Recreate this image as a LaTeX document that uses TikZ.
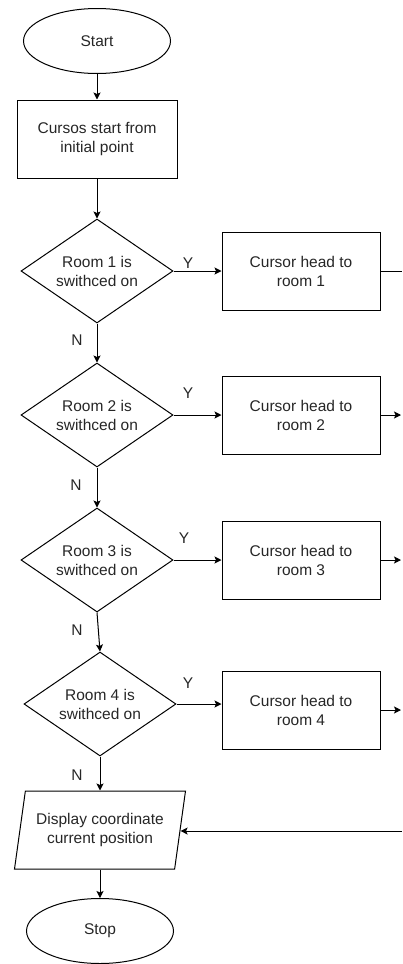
\documentclass[tikz,border=0pt]{standalone}
\usepackage{fontspec}
\setmainfont{Liberation Sans}
\usetikzlibrary{shapes.geometric,arrows.meta}

\begin{document}
\begin{tikzpicture}[x=1pt,y=-1pt,
  base/.style={draw=black, line width=1pt, font=\fontsize{15.5}{19}\selectfont,
    align=center, inner sep=0pt, text=black!85},
  term/.style={base, ellipse, minimum width=147pt, minimum height=65pt},
  proc/.style={base, rectangle, minimum width=158pt, minimum height=78pt},
  decide/.style={base, diamond, shape aspect=1.46, minimum width=152pt, minimum height=104pt},
  io/.style={base, trapezium, trapezium left angle=72, trapezium right angle=108,
    trapezium stretches body, minimum width=171pt, minimum height=78pt},
  flow/.style={line width=1pt, -{Stealth[length=7pt,width=7pt,inset=1.5pt]}},
  plain/.style={line width=1pt},
  lbl/.style={font=\fontsize{15.5}{19}\selectfont, text=black!85, inner sep=0pt}
]
\useasboundingbox (0,0) rectangle (402,964);

% main column
\node[term] (start) at (97,41) {Start};
\node[proc, minimum width=160pt] (init) at (97,139) {Cursos start from\\initial point};
\node[decide] (d1) at (97,271) {Room 1 is\\swithced on};
\node[decide] (d2) at (97,415) {Room 2 is\\swithced on};
\node[decide] (d3) at (97,560) {Room 3 is\\swithced on};
\node[decide] (d4) at (100,704) {Room 4 is\\swithced on};
\node[io] (disp) at (100,830) {Display coordinate\\current position};
\node[term] (stop) at (100,931) {Stop};

% room actions
\node[proc] (r1) at (301,271) {Cursor head to\\room 1};
\node[proc] (r2) at (301,415) {Cursor head to\\room 2};
\node[proc] (r3) at (301,560) {Cursor head to\\room 3};
\node[proc] (r4) at (301,710) {Cursor head to\\room 4};

% loose ends at the right margin
\coordinate (e1) at (402,271);
\coordinate (e2) at (401,415);
\coordinate (e3) at (401,560);
\coordinate (e4) at (401,710);
\coordinate (back) at (402,831);

% vertical flow
\draw[flow] (start) -- (init);
\draw[flow] (init) -- (d1);
\draw[flow] (d1) -- (d2);
\draw[flow] (d2) -- (d3);
\draw[flow] (d3.south) -- (d4.north);
\draw[flow] (d4) -- (disp);
\draw[flow] (disp) -- (stop);

% yes branches
\draw[flow] (d1.east) -- (r1.west);
\draw[flow] (d2.east) -- (r2.west);
\draw[flow] (d3.east) -- (r3.west);
\draw[flow] (d4.east) -- (d4.east -| r4.west);

% outgoing edges of the room boxes
\draw[plain] (r1.east) -- (e1);
\draw[flow] (r2.east) -- (e2);
\draw[flow] (r3.east) -- (e3);
\draw[flow] (r4.east) -- (e4);
\draw[flow] (back) -- (disp.east |- back);

% branch labels
\node[lbl] (y1) at (188,263) {Y};
\node[lbl] (y2) at (188,393) {Y};
\node[lbl] (y3) at (184,538) {Y};
\node[lbl] (y4) at (188,683) {Y};
\node[lbl] (n1) at (77,340) {N};
\node[lbl] (n2) at (76,485) {N};
\node[lbl] (n3) at (77,630) {N};
\node[lbl] (n4) at (77,775) {N};
\end{tikzpicture}
\end{document}
